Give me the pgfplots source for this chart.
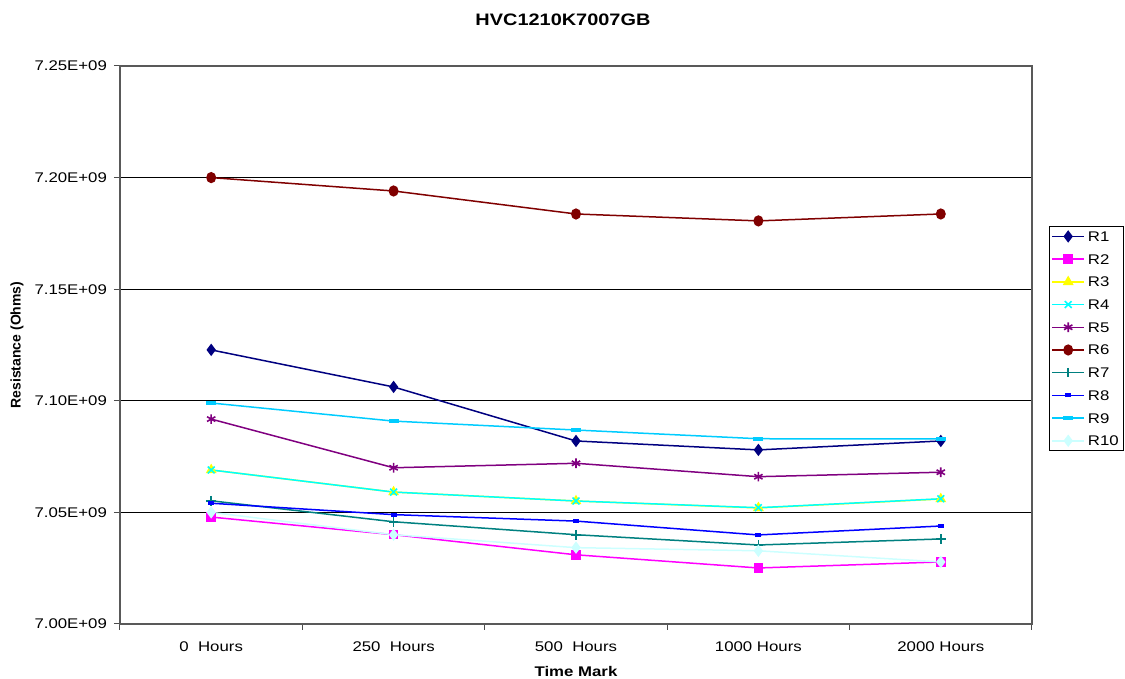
\documentclass[border=0pt]{standalone}
\usepackage{fontspec}
\setmainfont{Liberation Sans}[FakeStretch=1.2]
\newfontfamily\plainfont{Liberation Sans}
\usepackage{pgfplots}
\pgfplotsset{compat=1.18}
\definecolor{cR1}{HTML}{000080}
\definecolor{cR2}{HTML}{FF00FF}
\definecolor{cR3}{HTML}{FFFF00}
\definecolor{cR4}{HTML}{00FFFF}
\definecolor{cR5}{HTML}{800080}
\definecolor{cR6}{HTML}{800000}
\definecolor{cR7}{HTML}{008080}
\definecolor{cR8}{HTML}{0000FF}
\definecolor{cR9}{HTML}{00CCFF}
\definecolor{cR10}{HTML}{CCFFFF}
\begin{document}
\begin{tikzpicture}
\path[use as bounding box] (-60pt,-27.5pt) rectangle (502.5pt,312pt);
\begin{axis}[
  at={(0pt,0pt)}, anchor=south west,
  scale only axis, width=456pt, height=279pt,
  xmin=-0.5, xmax=4.5,
  ymin=7.00e9, ymax=7.25e9,
  scaled y ticks=false,
  xtick={0,1,2,3,4},
  xticklabels={0\ \ Hours,250\ \ Hours,500\ \ Hours,1000 Hours,2000 Hours},
  minor xtick={-0.5,0.5,1.5,2.5,3.5,4.5},
  ytick={7.00e9,7.05e9,7.10e9,7.15e9,7.20e9,7.25e9},
  yticklabels={7.00E+09,7.05E+09,7.10E+09,7.15E+09,7.20E+09,7.25E+09},
  tick pos=left, tick align=outside,
  major tick length=3pt,
  x tick style={draw=none},
  minor x tick style={draw=black!70, line width=0.5pt},
  minor tick length=3pt,
  y tick style={draw=black!70, line width=0.5pt},
  ymajorgrids, grid style={black, line width=0.5pt},
  axis line style={draw=black!65, line width=0.6pt},
  tick label style={font=\fontsize{7}{8}\selectfont},
  xticklabel style={anchor=center, yshift=-8.5pt},
  title={\textbf{HVC1210K7007GB}},
  title style={at={(axis description cs:0.4857,1.0824)}, anchor=center, yshift=-6pt, font=\fontsize{8.3}{9}\selectfont},
  xlabel={\textbf{Time Mark}},
  xlabel style={at={(axis description cs:0.5,-0.0860)}, anchor=center, font=\fontsize{7}{8}\selectfont},
  ylabel={\plainfont\bfseries Resistance (Ohms)},
  ylabel style={at={(axis description cs:-0.1129,0.5)}, anchor=center, rotate=0, font=\fontsize{7}{8}\selectfont},
  legend style={at={(axis description cs:1.0186,0.7133)}, anchor=north west,
    draw=black, line width=0.5pt, fill=white, inner xsep=1pt, inner ysep=1pt,
    font=\fontsize{7}{8}\selectfont, row sep=3.35pt,
    nodes={inner xsep=1.5pt, inner ysep=1.5pt, text height=5pt, text depth=0pt}},
  legend cell align=left,
  legend image code/.code={\draw[mark repeat=2,mark phase=2,#1] plot coordinates {(0pt,0pt) (8pt,0pt) (16pt,0pt)};},
  every axis plot/.append style={line width=0.75pt},
]
\addplot[color=cR1, mark=diamond*, mark size=2.5pt, mark options={solid, fill=cR1}] coordinates {(0,7.1228e9) (1,7.1062e9) (2,7.0820e9) (3,7.0780e9) (4,7.0820e9)};
\addlegendentry{R1}
\addplot[color=cR2, mark=square*, mark size=2.0pt, mark options={solid, fill=cR2}] coordinates {(0,7.0479e9) (1,7.0400e9) (2,7.0310e9) (3,7.0251e9) (4,7.0278e9)};
\addlegendentry{R2}
\addplot[color=cR3, mark=triangle*, mark size=2.4pt, mark options={solid, fill=cR3}] coordinates {(0,7.0690e9) (1,7.0591e9) (2,7.0551e9) (3,7.0520e9) (4,7.0560e9)};
\addlegendentry{R3}
\addplot[color=cR4, mark=x, mark size=2.4pt, mark options={solid, line width=0.8pt}] coordinates {(0,7.0690e9) (1,7.0591e9) (2,7.0551e9) (3,7.0521e9) (4,7.0561e9)};
\addlegendentry{R4}
\addplot[color=cR5, mark=asterisk, mark size=2.4pt, mark options={solid, line width=0.8pt}] coordinates {(0,7.0918e9) (1,7.0700e9) (2,7.0720e9) (3,7.0660e9) (4,7.0680e9)};
\addlegendentry{R5}
\addplot[color=cR6, mark=*, mark size=2.1pt, mark options={solid, fill=cR6, yscale=1.15}] coordinates {(0,7.2000e9) (1,7.1940e9) (2,7.1837e9) (3,7.1806e9) (4,7.1837e9)};
\addlegendentry{R6}
\addplot[color=cR7, mark=+, mark size=2.4pt, mark options={solid, line width=0.8pt}] coordinates {(0,7.0552e9) (1,7.0458e9) (2,7.0400e9) (3,7.0354e9) (4,7.0381e9)};
\addlegendentry{R7}
\addplot[color=cR8, mark=-, mark size=1.5pt, mark options={solid, line width=2pt}] coordinates {(0,7.0541e9) (1,7.0490e9) (2,7.0461e9) (3,7.0399e9) (4,7.0439e9)};
\addlegendentry{R8}
\addplot[color=cR9, mark=-, mark size=2.5pt, mark options={solid, line width=2pt}] coordinates {(0,7.0990e9) (1,7.0909e9) (2,7.0869e9) (3,7.0830e9) (4,7.0829e9)};
\addlegendentry{R9}
\addplot[color=cR10, mark=diamond*, mark size=2.5pt, mark options={solid, fill=cR10}] coordinates {(0,7.0500e9) (1,7.0400e9) (2,7.0342e9) (3,7.0328e9) (4,7.0278e9)};
\addlegendentry{R10}
\end{axis}
\end{tikzpicture}
\end{document}
